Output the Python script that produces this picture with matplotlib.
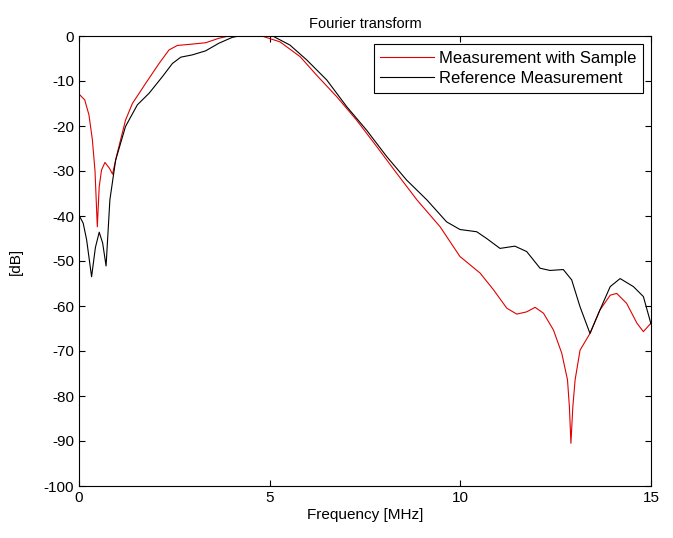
import matplotlib
matplotlib.use("Agg")
import matplotlib.pyplot as plt

plt.rcParams['font.family'] = ['Liberation Sans', 'DejaVu Sans']
plt.rcParams['axes.unicode_minus'] = False

# Spectrum of the measurement with sample (frequency in MHz, magnitude in dB)
freq_sample = [0.0, 0.15, 0.26, 0.35, 0.42, 0.48, 0.53, 0.59, 0.68, 0.80, 0.88, 0.99,
               1.09, 1.22, 1.40, 1.75, 2.1, 2.36, 2.58, 2.97, 3.32, 3.67, 3.93, 4.5,
               4.83, 5.27, 5.80, 6.23, 6.76, 7.28, 7.81, 8.33, 8.86, 9.47, 9.99, 10.52,
               10.87, 11.22, 11.48, 11.74, 11.96, 12.18, 12.44, 12.66, 12.81, 12.86, 12.9,
               12.95, 13.01, 13.14, 13.4, 13.66, 13.93, 14.1, 14.36, 14.63, 14.8, 15.0]
db_sample = [-12.9, -14.2, -17.5, -23.0, -30.0, -42.4, -33.5, -29.8, -28.1, -29.4, -30.7, -26.5,
             -23.1, -18.7, -15.0, -10.5, -6.1, -3.1, -2.1, -1.8, -1.5, -0.5, 0.0, 0.0,
             -0.1, -1.3, -4.6, -8.7, -13.5, -18.7, -24.6, -30.5, -36.4, -42.4, -49.0, -52.7,
             -56.4, -60.5, -61.8, -61.3, -60.3, -61.6, -65.3, -70.5, -76.4, -82.4, -90.5,
             -82.4, -76.4, -69.8, -66.1, -60.9, -57.6, -57.2, -59.4, -63.8, -65.7, -63.8]

# Spectrum of the reference measurement
freq_ref = [0.0, 0.11, 0.2, 0.33, 0.43, 0.53, 0.62, 0.71, 0.81, 0.96, 1.22, 1.53,
            1.84, 2.19, 2.45, 2.67, 2.97, 3.32, 3.67, 4.02, 4.2, 4.8, 5.10, 5.53,
            5.97, 6.50, 7.02, 7.54, 8.07, 8.59, 9.12, 9.64, 9.99, 10.43, 10.69, 11.04,
            11.43, 11.74, 12.09, 12.35, 12.7, 12.92, 13.14, 13.4, 13.66, 13.93, 14.19,
            14.54, 14.8, 15.0]
db_ref = [-39.8, -41.6, -45.3, -53.5, -47.0, -43.6, -46.0, -51.1, -36.4, -27.6, -20.1, -15.3,
          -12.7, -9.0, -6.1, -4.7, -4.2, -3.3, -1.6, -0.3, 0.0, 0.0, -0.1, -2.0,
          -5.3, -9.8, -15.7, -20.9, -26.8, -32.0, -36.4, -41.3, -43.0, -43.5, -45.0, -47.2,
          -46.7, -47.9, -51.6, -52.1, -51.9, -54.2, -60.2, -66.1, -60.9, -55.7, -53.9,
          -55.7, -57.9, -64.0]

fig = plt.figure(figsize=(6.73, 5.38), dpi=100)
ax = fig.add_axes([79 / 673, 1 - 486 / 538, 572 / 673, 450 / 538])

ax.plot(freq_sample, db_sample, color='#e00000', linewidth=0.8, label='Measurement with Sample')
ax.plot(freq_ref, db_ref, color='black', linewidth=0.8, label='Reference Measurement')

ax.set_xlim(0, 15)
ax.set_ylim(-100, 0)
ax.set_xticks([0, 5, 10, 15])
ax.set_yticks(range(-100, 1, 10))
ax.tick_params(direction='in', top=True, right=True, labelsize=11, length=4, width=0.8)
for s in ax.spines.values():
    s.set_linewidth(0.8)

ax.set_title('Fourier transform', fontsize=10.5, pad=6)
ax.set_xlabel('Frequency [MHz]', fontsize=11, labelpad=2)
ax.set_ylabel('[dB]', fontsize=11)
ax.yaxis.set_label_coords(-0.098, 0.5)

leg = ax.legend(loc='upper right', fontsize=12, fancybox=False, framealpha=1,
                edgecolor='black', handlelength=3.2, borderaxespad=0.5,
                handletextpad=0.3, labelspacing=0.3, borderpad=0.4)
leg.get_frame().set_linewidth(0.8)

fig.savefig('out.png', dpi=100)
